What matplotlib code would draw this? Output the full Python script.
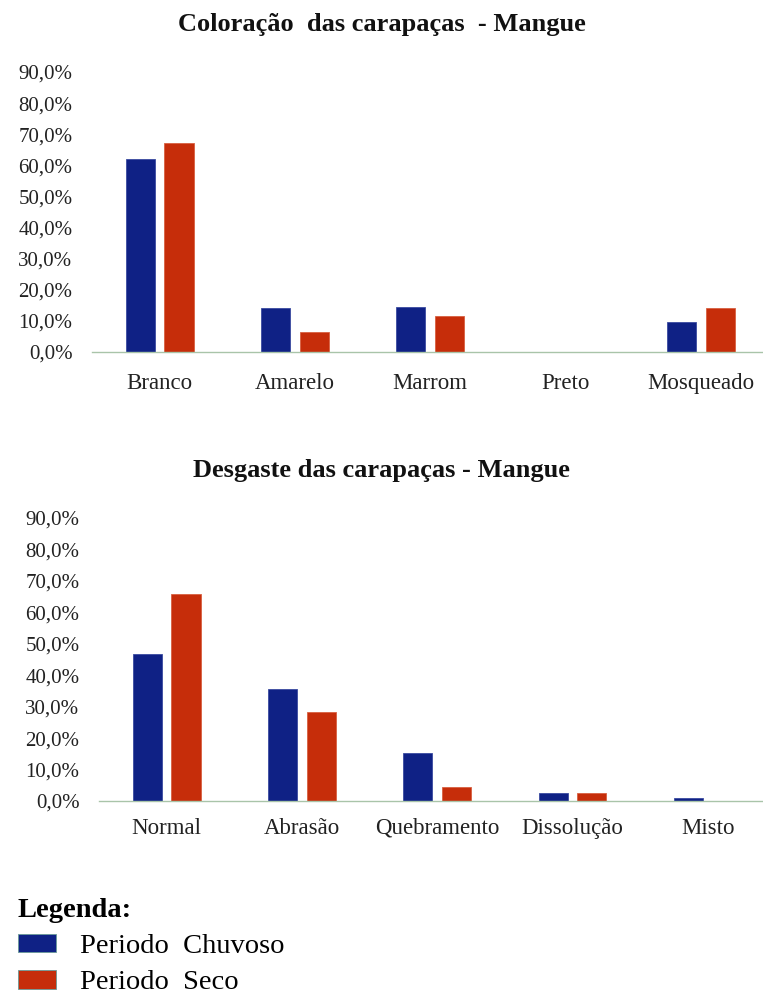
import matplotlib
matplotlib.use("Agg")
import matplotlib.pyplot as plt
import numpy as np
from matplotlib.ticker import FuncFormatter

plt.rcParams['font.family'] = ['Liberation Serif', 'DejaVu Serif']

# dados
cor_cats = ["Branco", "Amarelo", "Marrom", "Preto", "Mosqueado"]
cor_chuvoso = [62.0, 14.0, 14.5, 0.0, 9.5]
cor_seco = [67.0, 6.4, 11.5, 0.0, 14.0]

desg_cats = ["Normal", "Abrasão", "Quebramento", "Dissolução", "Misto"]
desg_chuvoso = [46.6, 35.7, 15.4, 2.6, 0.9]
desg_seco = [65.8, 28.3, 4.4, 2.6, 0.0]

yticks = [0, 10, 20, 30, 40, 50, 60, 70, 80, 90]
titulos = ["Coloração  das carapaças  - Mangue", "Desgaste das carapaças - Mangue"]
series = ["Periodo  Chuvoso", "Periodo  Seco"]

azul = "#0f2185"
vermelho = "#c62d0a"

W, H = 763, 1001
fig = plt.figure(figsize=(W / 100, H / 100), dpi=100)

def painel(rect, cats, chuv, seco, titulo, left_px, title_y, xpad):
    ax = fig.add_axes(rect)
    x = np.arange(len(cats))
    w = 0.215
    off = 0.143
    b1 = ax.bar(x - off, chuv, w, color=azul, edgecolor="#3a4aa0", linewidth=0.6, zorder=2)
    b2 = ax.bar(x + off, seco, w, color=vermelho, edgecolor="#d86040", linewidth=0.6, zorder=2)
    ax.set_ylim(0, 90)
    ax.set_xlim(-0.5, -0.5 + (W - left_px) / 135.3)
    ax.set_yticks(yticks)
    ax.yaxis.set_major_formatter(FuncFormatter(lambda v, p: f"{v:.1f}".replace(".", ",") + "%"))
    ax.set_xticks(x)
    ax.set_xticklabels(cats)
    for s in ["top", "right", "left"]:
        ax.spines[s].set_visible(False)
    ax.spines["bottom"].set_color("#a9c4a9")
    ax.spines["bottom"].set_linewidth(1.0)
    ax.spines["bottom"].set_linestyle((0, (3, 1)))
    ax.tick_params(axis="y", length=0, pad=14, labelsize=15, colors="#222222")
    ax.tick_params(axis="x", length=0, pad=xpad, labelsize=16.5, colors="#222222")
    fig.text(0.5, title_y, titulo, ha="center", va="center",
             fontsize=19, fontweight="bold", color="#111111")
    return b1, b2

l1 = 92
b1, b2 = painel([l1 / W, 1 - 351.7 / H, (W - l1) / W, (351.7 - 72) / H],
                cor_cats, cor_chuvoso, cor_seco, titulos[0], l1, 1 - 25 / H, 15)
l2 = 99
painel([l2 / W, 1 - 801 / H, (W - l2) / W, (801 - 518) / H],
       desg_cats, desg_chuvoso, desg_seco, titulos[1], l2, 1 - 470 / H, 12)

leg = fig.legend([b1, b2], series, loc="upper left", bbox_to_anchor=(18 / W, 1 - 898 / H),
                 frameon=False, title="Legenda:", alignment="left",
                 fontsize=20.5, handlelength=1.33, handleheight=0.63,
                 handletextpad=0.84, labelspacing=0.38, borderpad=0, borderaxespad=0,
                 title_fontproperties={"weight": "bold", "size": 20.5})
for h in leg.legend_handles:
    h.set_edgecolor("#6a9a98")

fig.savefig("out.png", dpi=100)
